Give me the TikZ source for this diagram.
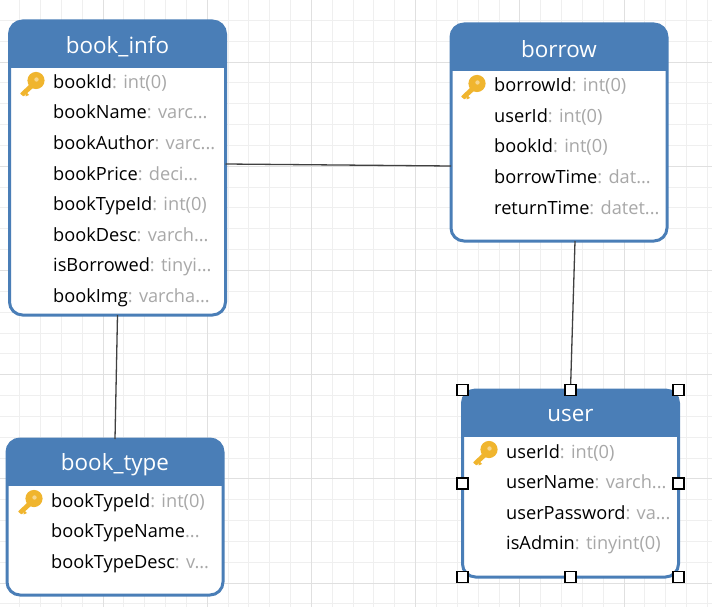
\documentclass[tikz,border=0pt]{standalone}
\usepackage{fontspec}
\setmainfont{Open Sans}
\definecolor{headblue}{HTML}{4A7EB7}
\definecolor{typegray}{HTML}{A8A8A8}
\definecolor{keygold}{HTML}{F0B52E}
\definecolor{minorgrid}{HTML}{EFEFEF}
\definecolor{majorgrid}{HTML}{E0E0E0}
\tikzset{
	tablebox/.style={draw=headblue,line width=3pt,fill=white,rounded corners=13pt,minimum width=216pt,inner sep=0pt,outer sep=0pt,
		path picture={\fill[headblue,sharp corners] (path picture bounding box.north west) rectangle ([yshift=-47pt]path picture bounding box.north east);}},
	tabletitle/.style={text=white,font=\fontsize{22.4}{26}\selectfont},
	fieldtext/.style={anchor=base west,inner sep=0pt,font=\fontsize{18.2}{22}\selectfont},
	handle/.style={draw=black,line width=1.3pt,fill=white,minimum size=11pt,inner sep=0pt},
	relation/.style={draw=black!75,line width=1.3pt},
	pics/keyicon/.style={code={
		\fill[keygold,rounded corners=.6pt] (-12,9.5) -- (-2,0) -- (2,3) -- (-8.5,12.5) -- cycle;
		\fill[keygold] (-6,8) -- (-3,11) -- (-6.5,12.5) -- cycle;
		\fill[keygold] (4,-3.5) circle (8.6pt);
		\fill[keygold!55!white] (4.5,-4.5) circle (2.2pt);
	}}
}
\newcommand{\fieldrow}[2]{#1\textcolor{typegray}{: #2}}
\begin{document}
\begin{tikzpicture}[x=1pt,y=-1pt]
	\useasboundingbox (0,0) rectangle (712,607);
	\fill[white] (0,0) rectangle (712,607);
	%grid
		\foreach \gx in {0,...,33}
			\draw[minorgrid,line width=.8pt] ({19.6+20.84*\gx},0) -- ++(0,607);
		\foreach \gy in {0,...,28}
			\draw[minorgrid,line width=.8pt] (0,{20.3+20.84*\gy}) -- ++(712,0);
		\foreach \gx in {0,...,5}
			\draw[majorgrid,line width=.8pt] ({103+104.2*\gx},0) -- ++(0,607);
		\foreach \gy in {0,...,5}
			\draw[majorgrid,line width=.8pt] (0,{62+104.2*\gy}) -- ++(712,0);
	%tables
		\node[tablebox,minimum height=294pt] (bookinfo) at (117.5,168) {};
		\node[tablebox,minimum height=217pt] (borrow) at (559,132.5) {};
		\node[tablebox,minimum height=156pt] (booktype) at (115,517) {};
		\node[tablebox,minimum height=187pt] (user) at (570.5,483.5) {};
	%relations
		\draw[relation] ([yshift=4pt]bookinfo.east) -- ([yshift=-33.5pt]borrow.west);
		\draw[relation] ([xshift=16pt]borrow.south) -- (user.north);
		\draw[relation] (bookinfo.south) -- (booktype.north);
	%titles
		\node[tabletitle] (bookinfotitle) at (117.5,46.5) {book\_info};
		\node[tabletitle] (borrowtitle) at (559,49) {borrow};
		\node[tabletitle] (booktypetitle) at (115,464.5) {book\_type};
		\node[tabletitle] (usertitle) at (570.5,415.5) {user};
	%book_info fields
		\pic at (32,84) {keyicon};
		\node[fieldtext] (infoid) at (53,88.5) {\fieldrow{bookId}{int(0)}};
		\node[fieldtext] (infoname) at (53,119) {\fieldrow{bookName}{varc...}};
		\node[fieldtext] (infoauthor) at (53,149.5) {\fieldrow{bookAuthor}{varc...}};
		\node[fieldtext] (infoprice) at (53,180) {\fieldrow{bookPrice}{deci...}};
		\node[fieldtext] (infotypeid) at (53,210.5) {\fieldrow{bookTypeId}{int(0)}};
		\node[fieldtext] (infodesc) at (53,241) {\fieldrow{bookDesc}{varch...}};
		\node[fieldtext] (infoborrowed) at (53,271.5) {\fieldrow{isBorrowed}{tinyi...}};
		\node[fieldtext] (infoimg) at (53,302) {\fieldrow{bookImg}{varcha...}};
	%borrow fields
		\pic at (473,87) {keyicon};
		\node[fieldtext] (borrowid) at (494,92) {\fieldrow{borrowId}{int(0)}};
		\node[fieldtext] (borrowuser) at (494,122.5) {\fieldrow{userId}{int(0)}};
		\node[fieldtext] (borrowbook) at (494,153) {\fieldrow{bookId}{int(0)}};
		\node[fieldtext] (borrowtime) at (494,183.5) {\fieldrow{borrowTime}{dat...}};
		\node[fieldtext] (borrowreturn) at (494,214) {\fieldrow{returnTime}{datet...}};
	%book_type fields
		\pic at (30,502) {keyicon};
		\node[fieldtext] (typeid) at (51,507) {\fieldrow{bookTypeId}{int(0)}};
		\node[fieldtext] (typename) at (51,537.5) {bookTypeName\textcolor{typegray}{...}};
		\node[fieldtext] (typedesc) at (51,568) {\fieldrow{bookTypeDesc}{v...}};
	%user fields
		\pic at (485,453) {keyicon};
		\node[fieldtext] (userid) at (506,458) {\fieldrow{userId}{int(0)}};
		\node[fieldtext] (username) at (506,488.5) {\fieldrow{userName}{varch...}};
		\node[fieldtext] (userpass) at (506,519) {\fieldrow{userPassword}{va...}};
		\node[fieldtext] (useradmin) at (506,549.5) {\fieldrow{isAdmin}{tinyint(0)}};
	%selection handles
		\foreach \anc/\hname in {north west/hnw,north/hn,north east/hne,west/hw,east/he,south west/hsw,south/hs,south east/hse}
			\node[handle] (\hname) at (user.\anc) {};
\end{tikzpicture}
\end{document}
